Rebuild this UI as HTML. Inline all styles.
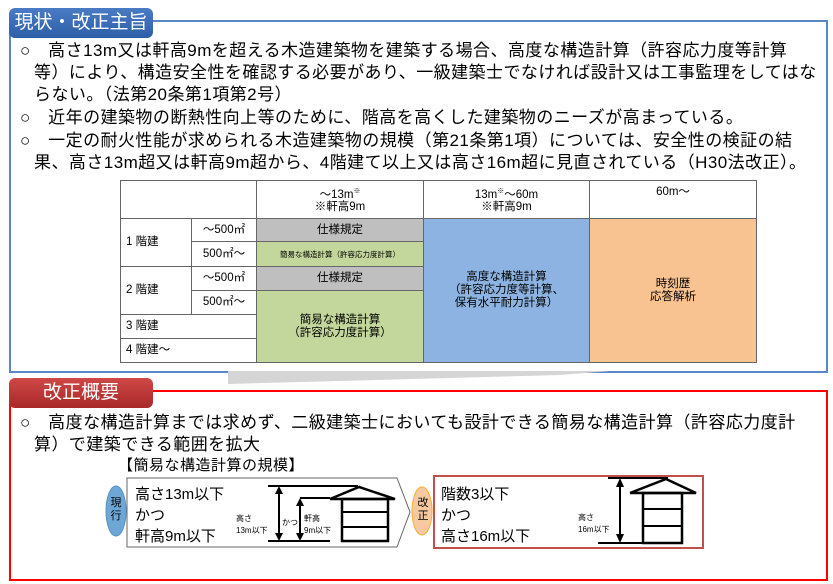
<!DOCTYPE html>
<html><head><meta charset="utf-8"><style>
body{margin:0;width:833px;height:584px;background:#fff;position:relative;overflow:hidden;font-family:"Liberation Sans","Noto Sans CJK JP",sans-serif;color:#000}
.a{position:absolute;white-space:nowrap}
.t{font-size:17px;line-height:22px;letter-spacing:0.45px}
.tab{position:absolute;color:#fff;font-size:19px;text-align:center;border-radius:6px 6px 0 0}
table{position:absolute;left:120px;top:180px;border-collapse:collapse;font-size:11.5px;table-layout:fixed}
td{border:1px solid #666;padding:0;text-align:center;line-height:13px}
</style></head><body>
<div class="a" style="left:9px;top:20px;width:815px;height:349px;border:2px solid #5b87c5"></div>
<div class="tab" style="left:9px;top:8px;width:144px;height:30px;line-height:30px;background:linear-gradient(#4a7cc4,#2d5ea8);border-radius:6px">現状・改正主旨</div>
<div class="a t" style="left:20px;top:40px">○　高さ13m又は軒高9mを超える木造建築物を建築する場合、高度な構造計算（許容応力度等計算</div>
<div class="a t" style="left:34px;top:62px">等）により、構造安全性を確認する必要があり、一級建築士でなければ設計又は工事監理をしてはな</div>
<div class="a t" style="left:34px;top:84px">らない。（法第20条第1項第2号）</div>
<div class="a t" style="left:20px;top:107px">○　近年の建築物の断熱性向上等のために、階高を高くした建築物のニーズが高まっている。</div>
<div class="a t" style="left:20px;top:130px">○　一定の耐火性能が求められる木造建築物の規模（第21条第1項）については、安全性の検証の結</div>
<div class="a t" style="left:34px;top:152px">果、高さ13m超又は軒高9m超から、4階建て以上又は高さ16m超に見直されている（H30法改正）。</div>
<table>
<colgroup><col style="width:71px"><col style="width:65px"><col style="width:167px"><col style="width:166px"><col style="width:167px"></colgroup>
<tr style="height:38px"><td colspan="2"></td><td>～13m<sup style="font-size:7px">※</sup><br>※軒高9m</td><td>13m<sup style="font-size:7px">※</sup>～60m<br>※軒高9m</td><td style="vertical-align:top;padding-top:5px">60m～</td></tr>
<tr style="height:23px"><td rowspan="2" style="text-align:left;padding-left:5px">1 階建</td><td style="border-left-color:#bbb">～500㎡</td><td style="background:#bfbfbf">仕様規定</td><td rowspan="6" style="background:#8db3e2">高度な構造計算<br>（許容応力度等計算、<br>保有水平耐力計算）</td><td rowspan="6" style="background:#f8c291">時刻歴<br>応答解析</td></tr>
<tr style="height:25px"><td style="border-left-color:#bbb">500㎡～</td><td style="background:#c3d69b;font-size:7.5px">簡易な構造計算（許容応力度計算）</td></tr>
<tr style="height:24px"><td rowspan="2" style="text-align:left;padding-left:5px">2 階建</td><td style="border-left-color:#bbb">～500㎡</td><td style="background:#bfbfbf">仕様規定</td></tr>
<tr style="height:24px"><td style="border-left-color:#bbb">500㎡～</td><td rowspan="3" style="background:#c3d69b">簡易な構造計算<br>（許容応力度計算）</td></tr>
<tr style="height:24px"><td colspan="2" style="text-align:left;padding-left:5px">3 階建</td></tr>
<tr style="height:24px"><td colspan="2" style="text-align:left;padding-left:5px">4 階建～</td></tr>
</table>
<svg class="a" style="left:0;top:0" width="833" height="584">
<polygon points="228,371 610,371 560,375 228,384" fill="#d5d5d5"/>
</svg>
<div class="a" style="left:9px;top:390px;width:815px;height:187px;border:2px solid #f00"></div>
<div class="tab" style="left:9px;top:378px;width:144px;height:30px;line-height:30px;background:linear-gradient(#d04848,#a82828);border-radius:6px">改正概要</div>
<div class="a t" style="left:20px;top:412px">○　高度な構造計算までは求めず、二級建築士においても設計できる簡易な構造計算（許容応力度計</div>
<div class="a t" style="left:34px;top:434px">算）で建築できる範囲を拡大</div>
<div class="a" style="left:118px;top:456px;font-size:15px;line-height:20px;letter-spacing:0.5px">【簡易な構造計算の規模】</div>
<svg class="a" style="left:0;top:0" width="833" height="584">
<polygon points="127,478 397,478 410,512 397,547 127,547" fill="#fff" stroke="#666" stroke-width="1"/>
<ellipse cx="116" cy="511" rx="10" ry="25" fill="#6ea7d6" stroke="#5a92c6"/>
<ellipse cx="422" cy="511" rx="10" ry="24" fill="#f8c9a0" stroke="#f0b030"/>
<rect x="434" y="476" width="269" height="72" fill="#fff" stroke="#c0504d" stroke-width="2"/>
<g stroke="#000" stroke-width="2" fill="none">
<line x1="268" y1="486" x2="358" y2="486"/><line x1="268" y1="541" x2="330" y2="541"/>
<line x1="279" y1="490" x2="279" y2="537"/>
<line x1="300" y1="498" x2="330" y2="498"/><line x1="300" y1="502" x2="300" y2="537"/>
<polyline points="330,499 359,487 395,499 330,499" stroke-width="2.5"/>
<rect x="342" y="499" width="46" height="42" stroke-width="2.5"/><line x1="342" y1="512" x2="388" y2="512"/><line x1="342" y1="527" x2="388" y2="527"/>
<line x1="608" y1="478" x2="668" y2="478"/><line x1="598" y1="543" x2="645" y2="543"/>
<line x1="620" y1="484" x2="620" y2="537"/>
<polyline points="630,493 666,479 696,493 630,493" stroke-width="2.5"/>
<rect x="643" y="493" width="39" height="50" stroke-width="2.5"/><line x1="643" y1="509" x2="682" y2="509"/><line x1="643" y1="526" x2="682" y2="526"/>
</g>
<g fill="#000"><polygon points="279,486 275,494 283,494"/><polygon points="279,541 275,533 283,533"/><polygon points="300,498 296,506 304,506"/><polygon points="300,541 296,533 304,533"/><polygon points="620,478 616,487 624,487"/><polygon points="620,543 616,534 624,534"/></g>
</svg>
<div class="a" style="left:108px;top:497px;font-size:11px;line-height:13px;width:16px;text-align:center;white-space:normal">現行</div>
<div class="a" style="left:415px;top:497px;font-size:11px;line-height:13px;width:16px;text-align:center;white-space:normal">改正</div>
<div class="a" style="left:135px;top:484px;font-size:15px;line-height:21px">高さ13m以下<br>かつ<br>軒高9m以下</div>
<div class="a" style="left:236px;top:513px;font-size:8px;line-height:12px">高さ<br>13m以下</div>
<div class="a" style="left:282px;top:517px;font-size:8px">かつ</div>
<div class="a" style="left:304px;top:513px;font-size:8px;line-height:12px">軒高<br>9m以下</div>
<div class="a" style="left:441px;top:484px;font-size:15px;line-height:21px">階数3以下<br>かつ<br>高さ16m以下</div>
<div class="a" style="left:578px;top:512px;font-size:8px;line-height:12px">高さ<br>16m以下</div>
</body></html>
